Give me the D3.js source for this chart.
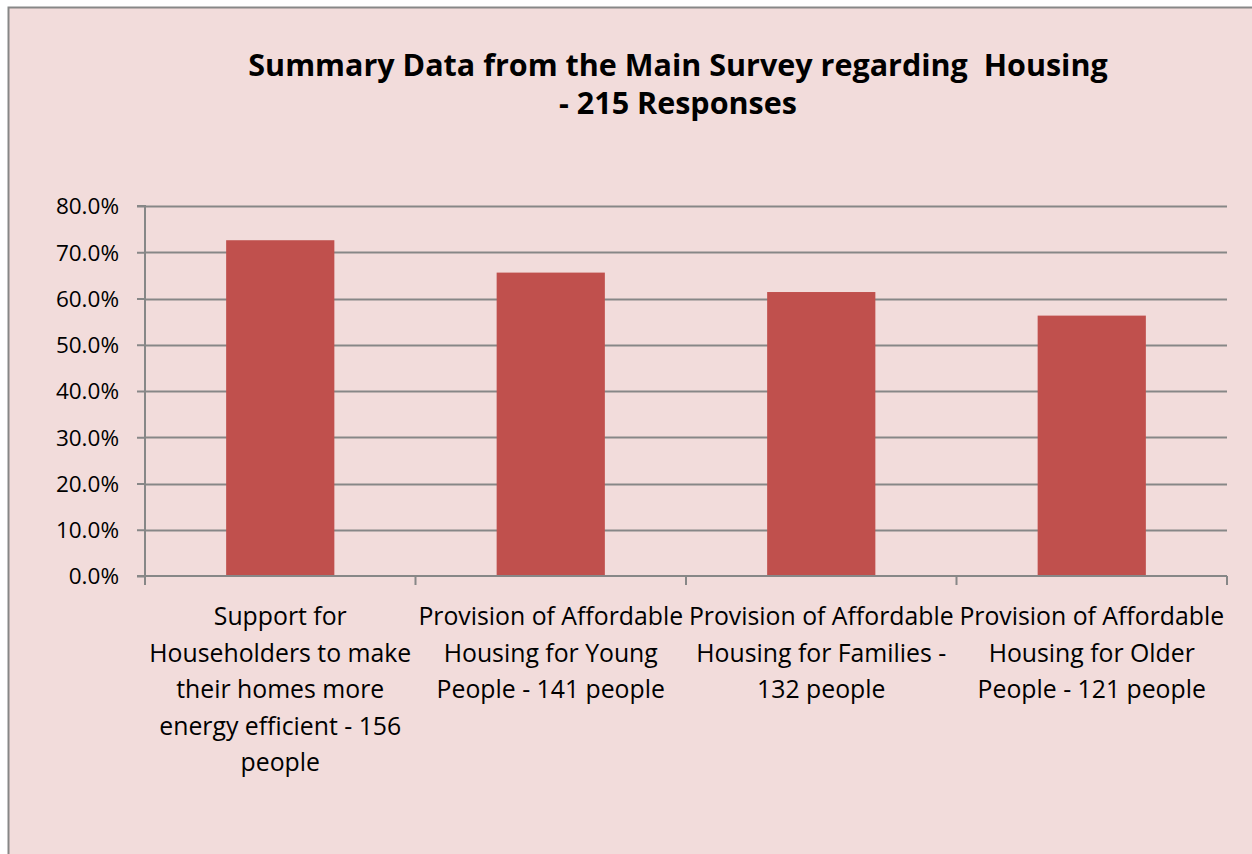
<!DOCTYPE html>
<html><head><meta charset="utf-8">
<script src="https://cdn.jsdelivr.net/npm/d3@7"></script>
<style>html,body{margin:0;padding:0;background:#fff;}svg{display:block;}</style>
</head><body>
<svg id="chart" width="1252" height="854"></svg>
<script>
const categories = [
  ["Support for", "Householders to make", "their homes more", "energy efficient - 156", "people"],
  ["Provision of Affordable", "Housing for Young", "People - 141 people"],
  ["Provision of Affordable", "Housing for Families -", "132 people"],
  ["Provision of Affordable", "Housing for Older", "People - 121 people"]
];
const values = [72.6, 65.6, 61.4, 56.3];
const yTicks = [0, 10, 20, 30, 40, 50, 60, 70, 80];
const titleLines = ["Summary Data from the Main Survey regarding\u00a0 Housing", "- 215 Responses"];

const svg = d3.select("#chart");
const font = "'Open Sans', 'Noto Sans', sans-serif";
svg.append("rect").attr("x", 8.5).attr("y", 7.5).attr("width", 1260).attr("height", 860)
  .attr("fill", "#F2DCDB").attr("stroke", "#878787").attr("stroke-width", 2);

const pL = 145, pR = 1227, pT = 206, pB = 576;
const idx = d3.range(categories.length);
const x = d3.scaleBand().domain(idx).range([pL, pR]).paddingInner(0).paddingOuter(0);
const y = d3.scaleLinear().domain([0, 80]).range([pB, pT]);

// gridlines
svg.append("g").selectAll("line").data(yTicks.filter(d => d > 0)).join("line")
  .attr("x1", pL).attr("x2", pR)
  .attr("y1", d => Math.round(y(d)) + 0.5).attr("y2", d => Math.round(y(d)) + 0.5)
  .attr("stroke", "#878787").attr("stroke-width", 2);

// bars
const bw = x.bandwidth() * 0.4;
svg.append("g").selectAll("rect").data(values).join("rect")
  .attr("x", (d, i) => x(i) + (x.bandwidth() - bw) / 2)
  .attr("width", bw)
  .attr("y", d => y(d))
  .attr("height", d => y(0) - y(d))
  .attr("fill", "#C0504D");

// y axis
const yAxis = d3.axisLeft(y).tickValues(yTicks).tickSize(8).tickPadding(18)
  .tickFormat(d => d3.format(".1f")(d) + "%");
const gy = svg.append("g").attr("transform", `translate(${pL},0)`).call(yAxis);
gy.select(".domain").attr("stroke", "#878787").attr("stroke-width", 2).attr("d", `M-8,${pT}H0V${pB}`);
gy.selectAll(".tick line").attr("stroke", "#878787").attr("stroke-width", 2);
gy.selectAll(".tick text").attr("fill", "#000").style("font-family", font).style("font-size", "22.5px").attr("dy", "0.35em");

// x axis
const xEdges = d3.scaleLinear().domain([0, categories.length]).range([pL, pR]);
const gx = svg.append("g").attr("transform", `translate(0,${pB})`);
gx.append("line").attr("x1", pL - 8).attr("x2", pR).attr("y1", 0).attr("y2", 0)
  .attr("stroke", "#878787").attr("stroke-width", 2);
gx.selectAll(".edge").data(d3.range(categories.length + 1)).join("line").attr("class", "edge")
  .attr("x1", d => xEdges(d)).attr("x2", d => xEdges(d)).attr("y1", 0).attr("y2", 9)
  .attr("stroke", "#878787").attr("stroke-width", 2);

const labels = svg.append("g");
categories.forEach((lines, i) => {
  const t = labels.append("text").attr("text-anchor", "middle")
    .style("font-family", font).style("font-size", "24.8px").attr("fill", "#000");
  lines.forEach((ln, j) => {
    t.append("tspan").attr("x", x(i) + x.bandwidth() / 2).attr("y", 625 + j * 36.6).text(ln);
  });
});

// title
const tt = svg.append("text").attr("text-anchor", "middle")
  .style("font-family", font).style("font-size", "30.5px").style("font-weight", "bold").attr("fill", "#000");
titleLines.forEach((ln, j) => {
  tt.append("tspan").attr("x", 678).attr("y", 76 + j * 38).text(ln);
});
</script>
</body></html>
